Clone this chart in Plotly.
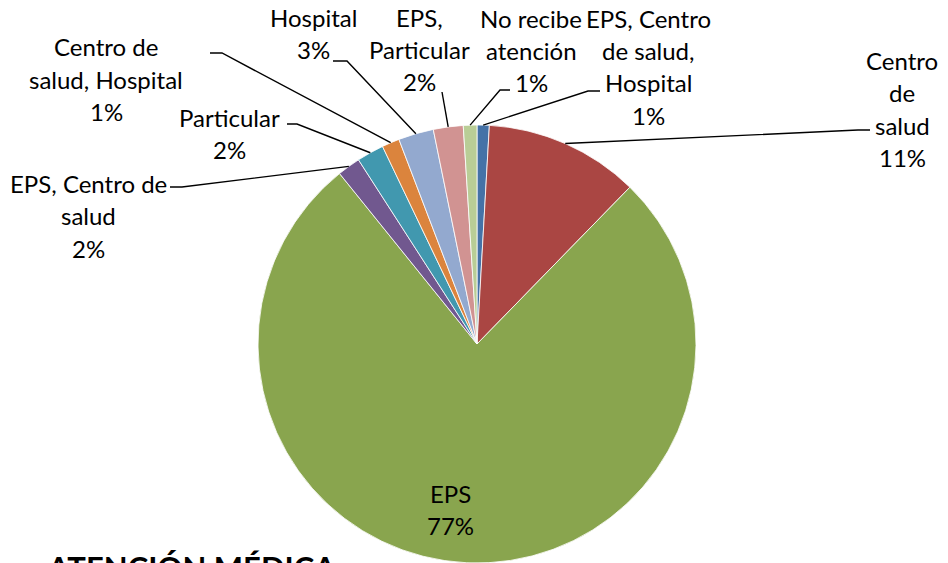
import math
import plotly.graph_objects as go

# ---- data ----
categories = ["EPS, Centro de salud, Hospital", "Centro de salud", "EPS",
              "EPS, Centro de salud", "Particular", "Centro de salud, Hospital",
              "Hospital", "EPS, Particular", "No recibe atención"]
values = [0.9, 11.4, 76.9, 1.7, 2.0, 1.3, 2.6, 2.2, 1.0]
colors = ["#4572A7", "#AA4643", "#89A54E", "#71588F", "#4198AF",
          "#DB843D", "#93A9CF", "#D19392", "#B9CD96"]
label_lines = [["EPS, Centro", "de salud,", "Hospital"],
               ["Centro", "de", "salud"],
               ["EPS"],
               ["EPS, Centro de", "salud"],
               ["Particular"],
               ["Centro de", "salud, Hospital"],
               ["Hospital"],
               ["EPS,", "Particular"],
               ["No recibe", "atención"]]
title_text = "ATENCIÓN MÉDICA"

# ---- layout (page pixels; the page body has an 8px margin) ----
OFF = 8
W, H = 948 - OFF, 563 - OFF
CX, CY, R = 477, 344, 219
# label centre x, first line centre y
label_pos = [(648, 18), (902, 60), (450, 493), (88, 183), (229, 117),
             (106, 47), (313, 17), (419, 17), (531, 18)]
# leader line: elbow point, end point (None = no leader)
leaders = [((588, 91), (600, 91)), ((858, 130), (870, 130)), None,
           ((182, 187), (170, 187)), ((297, 124), (287, 124)),
           ((222, 53), (210, 53)), ((347, 61), (333, 61)),
           ((442, 92), (442, 92)), ((500, 90), (510, 90))]
LINE_GAP = 32.5
FONT = "Lato, Carlito, Calibri, sans-serif"
FS = 24


def px(x):
    return (x - OFF) / W


def py(y):
    return 1 - (y - OFF) / H


fig = go.Figure(go.Pie(
    labels=categories, values=values, sort=False, direction="clockwise",
    rotation=0, textinfo="none", hoverinfo="label+percent",
    marker=dict(colors=colors, line=dict(color="white", width=0.8)),
    domain=dict(x=[px(CX - R), px(CX + R)], y=[py(CY + R), py(CY - R)]),
    showlegend=False,
))

total = sum(values)
annotations = []
shapes = []
cum = 0.0
for i, v in enumerate(values):
    mid = (cum + v / 2) / total * 2 * math.pi
    cum += v
    pct = f"{round(v / total * 100):d}%"
    lines = label_lines[i] + [pct]
    lx, ly = label_pos[i]
    for k, t in enumerate(lines):
        annotations.append(dict(
            x=px(lx), y=py(ly + k * LINE_GAP), xref="paper", yref="paper",
            text=t, showarrow=False, xanchor="center", yanchor="middle",
            font=dict(family=FONT, size=FS, color="#000000")))
    if leaders[i] is not None:
        (ex, ey), (tx, ty) = leaders[i]
        ax = CX + R * math.sin(mid)
        ay = CY - R * math.cos(mid)
        path = f"M {px(ax)} {py(ay)} L {px(ex)} {py(ey)} L {px(tx)} {py(ty)}"
        shapes.append(dict(type="path", xref="paper", yref="paper", path=path,
                           line=dict(color="#000000", width=1.4)))

annotations.append(dict(
    x=px(45), y=py(546), xref="paper", yref="paper", text=f"<b>{title_text}</b>",
    showarrow=False, xanchor="left", yanchor="top",
    font=dict(family=FONT, size=31, color="#000000")))

fig.update_layout(
    width=W, height=H, margin=dict(l=0, r=0, t=0, b=0),
    paper_bgcolor="white", plot_bgcolor="white",
    annotations=annotations, shapes=shapes,
)

fig.write_html("out.html")
